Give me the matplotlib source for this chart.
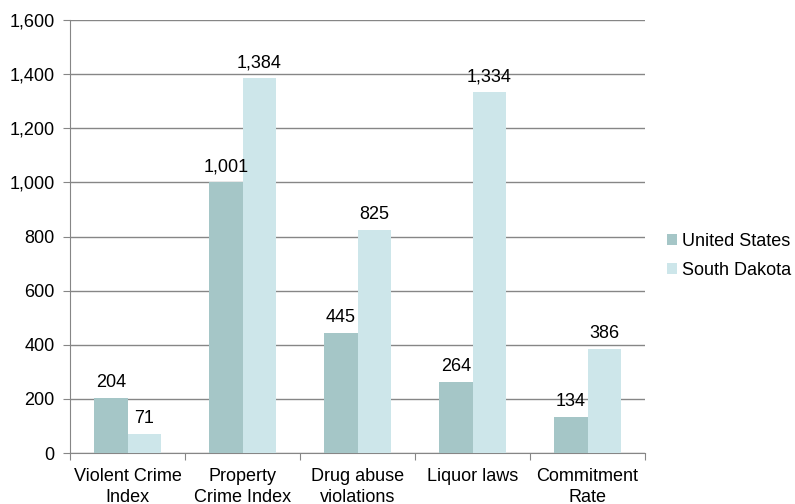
import numpy as np
import matplotlib.pyplot as plt

plt.rcParams['font.family'] = ['Liberation Sans', 'DejaVu Sans']

categories = ['Violent Crime\nIndex', 'Property\nCrime Index', 'Drug abuse\nviolations',
              'Liquor laws', 'Commitment\nRate']
us = [204, 1001, 445, 264, 134]
sd = [71, 1384, 825, 1334, 386]
us_labels = ['204', '1,001', '445', '264', '134']
sd_labels = ['71', '1,384', '825', '1,334', '386']

fig = plt.figure(figsize=(7.95, 5.04), dpi=100)
ax = fig.add_axes([70/795, 51/504, 575/795, 433/504])

x = np.arange(len(categories))
w = 0.287
gray = '#868686'
fs = 13
b1 = ax.bar(x - w/2, us, w, color='#A5C6C7', label='United States', zorder=3)
b2 = ax.bar(x + w/2, sd, w, color='#CDE6EA', label='South Dakota', zorder=3)

for bars, labs in ((b1, us_labels), (b2, sd_labels)):
    for b, t in zip(bars, labs):
        ax.text(b.get_x() + b.get_width()/2, b.get_height() + 25, t,
                ha='center', va='bottom', fontsize=fs)

ax.set_xlim(-0.5, len(categories) - 0.5)
ax.set_ylim(0, 1600)
ax.set_yticks(range(0, 1601, 200))
ax.set_yticklabels([f'{v:,}' for v in range(0, 1601, 200)], fontsize=fs)
ax.yaxis.grid(True, color=gray, linewidth=1, zorder=0)

ax.set_xticks(np.arange(-0.5, len(categories), 1))
ax.set_xticklabels([])
ax.set_xticks(x, minor=True)
ax.set_xticklabels(categories, minor=True, fontsize=fs, linespacing=1.3)
ax.tick_params(axis='x', which='minor', length=0, pad=11)
ax.tick_params(axis='x', which='major', length=5, color=gray)
ax.tick_params(axis='y', length=5, color=gray, pad=6)

for s in ['top', 'right']:
    ax.spines[s].set_visible(False)
for s in ['left', 'bottom']:
    ax.spines[s].set_color(gray)

ax.legend(loc='center left', bbox_to_anchor=(1.025, 0.455), frameon=False,
          fontsize=fs, handlelength=0.6, handleheight=0.6, handletextpad=0.25,
          labelspacing=0.65, borderaxespad=0)

fig.savefig('out.png', dpi=100)
